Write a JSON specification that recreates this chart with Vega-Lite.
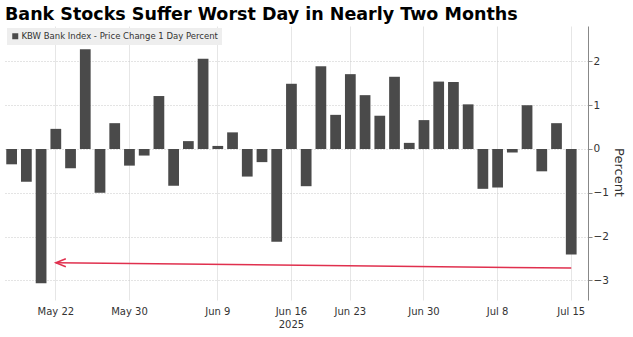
{
  "$schema": "https://vega.github.io/schema/vega-lite/v6.json",
  "width": 583,
  "height": 274,
  "autosize": {"type": "none"},
  "padding": {"left": 5, "top": 26, "right": 45, "bottom": 37},
  "background": "white",
  "title": {
    "text": "Bank Stocks Suffer Worst Day in Nearly Two Months",
    "anchor": "start",
    "frame": "group",
    "font": "DejaVu Sans",
    "fontSize": 17.5,
    "fontWeight": "bold",
    "color": "#000000",
    "offset": 3
  },
  "config": {
    "view": {"stroke": null},
    "axis": {"labelFont": "DejaVu Sans", "titleFont": "DejaVu Sans"}
  },
  "datasets": {
    "kbw": [
      {"date": "2025-05-19", "pct": -0.35},
      {"date": "2025-05-20", "pct": -0.75},
      {"date": "2025-05-21", "pct": -3.07},
      {"date": "2025-05-22", "pct": 0.46},
      {"date": "2025-05-23", "pct": -0.44},
      {"date": "2025-05-27", "pct": 2.28},
      {"date": "2025-05-28", "pct": -1.0},
      {"date": "2025-05-29", "pct": 0.59},
      {"date": "2025-05-30", "pct": -0.38},
      {"date": "2025-06-02", "pct": -0.15},
      {"date": "2025-06-03", "pct": 1.21},
      {"date": "2025-06-04", "pct": -0.84},
      {"date": "2025-06-05", "pct": 0.18},
      {"date": "2025-06-06", "pct": 2.06},
      {"date": "2025-06-09", "pct": 0.07},
      {"date": "2025-06-10", "pct": 0.38},
      {"date": "2025-06-11", "pct": -0.63},
      {"date": "2025-06-12", "pct": -0.3},
      {"date": "2025-06-13", "pct": -2.12},
      {"date": "2025-06-16", "pct": 1.49},
      {"date": "2025-06-17", "pct": -0.85},
      {"date": "2025-06-18", "pct": 1.89},
      {"date": "2025-06-20", "pct": 0.78},
      {"date": "2025-06-23", "pct": 1.71},
      {"date": "2025-06-24", "pct": 1.23},
      {"date": "2025-06-25", "pct": 0.76},
      {"date": "2025-06-26", "pct": 1.65},
      {"date": "2025-06-27", "pct": 0.14},
      {"date": "2025-06-30", "pct": 0.66},
      {"date": "2025-07-01", "pct": 1.54},
      {"date": "2025-07-02", "pct": 1.53},
      {"date": "2025-07-03", "pct": 1.02},
      {"date": "2025-07-07", "pct": -0.91},
      {"date": "2025-07-08", "pct": -0.88},
      {"date": "2025-07-09", "pct": -0.08},
      {"date": "2025-07-10", "pct": 1.0},
      {"date": "2025-07-11", "pct": -0.51},
      {"date": "2025-07-14", "pct": 0.59},
      {"date": "2025-07-15", "pct": -2.41}
    ],
    "arrow": [
      {"date": "2025-07-15", "date_end": "2025-05-22", "pct": -2.72, "pct_end": -2.6}
    ]
  },
  "layer": [
    {
      "data": {"name": "kbw"},
      "mark": {"type": "bar"},
      "encoding": {
        "x": {
          "field": "date",
          "type": "ordinal",
          "scale": {"paddingInner": 0.27, "paddingOuter": 0.43, "align": 0.1},
          "axis": {
            "title": null,
            "values": ["2025-05-22", "2025-05-30", "2025-06-09", "2025-06-16", "2025-06-23", "2025-06-30", "2025-07-08", "2025-07-15"],
            "labelExpr": "datum.value == '2025-06-16' ? [utcFormat(toDate(datum.value), '%b %-d'), '2025'] : utcFormat(toDate(datum.value), '%b %-d')",
            "labelAngle": 0,
            "labelFontSize": 10,
            "labelColor": "#333333",
            "labelPadding": 6,
            "labelLineHeight": 13,
            "domain": false,
            "ticks": false,
            "grid": true,
            "gridColor": "#e6e6e6",
            "gridWidth": 1
          }
        },
        "y": {
          "field": "pct",
          "type": "quantitative",
          "scale": {"domain": [-3.45, 2.81], "nice": false, "zero": false},
          "axis": {
            "orient": "right",
            "title": "Percent",
            "titleFontSize": 13,
            "titleFontWeight": "normal",
            "titleColor": "#333333",
            "titlePadding": 3,
            "titleY": 146,
            "values": [-3, -2.5, -2, -1.5, -1, -0.5, 0, 0.5, 1, 1.5, 2, 2.5],
            "labelExpr": "datum.value % 1 == 0 ? datum.label : ''",
            "labelFontSize": 10.5,
            "labelColor": "#333333",
            "labelPadding": 1,
            "tickSize": 4,
            "tickColor": "#888888",
            "domainColor": "#888888",
            "grid": true,
            "gridColor": "#c8c8c8",
            "gridDash": [1, 2],
            "gridOpacity": {"condition": {"test": "datum.value % 1 != 0", "value": 0}, "value": 1}
          }
        },
        "color": {
          "datum": "KBW Bank Index - Price Change 1 Day Percent",
          "scale": {"range": ["#4a4a4a"]},
          "legend": {
            "title": null,
            "orient": "top-left",
            "offset": 2,
            "fillColor": "#eeeeee",
            "padding": 4,
            "symbolType": "square",
            "symbolSize": 36,
            "symbolStrokeWidth": 0,
            "labelFont": "DejaVu Sans",
            "labelFontSize": 8.5,
            "labelColor": "#333333",
            "labelLimit": 400,
            "labelOffset": 2
          }
        }
      }
    },
    {
      "data": {"name": "arrow"},
      "mark": {"type": "rule", "color": "#e0304e", "strokeWidth": 1.5},
      "encoding": {
        "x": {"field": "date", "type": "ordinal"},
        "x2": {"field": "date_end"},
        "y": {"field": "pct", "type": "quantitative"},
        "y2": {"field": "pct_end"}
      }
    },
    {
      "data": {"name": "arrow"},
      "mark": {"type": "point", "shape": "M1,-0.4L0,0L1,0.4", "size": 400, "filled": false, "color": "#e0304e", "strokeWidth": 1.5, "opacity": 1},
      "encoding": {
        "x": {"field": "date_end", "type": "ordinal"},
        "y": {"field": "pct_end", "type": "quantitative"}
      }
    }
  ]
}
